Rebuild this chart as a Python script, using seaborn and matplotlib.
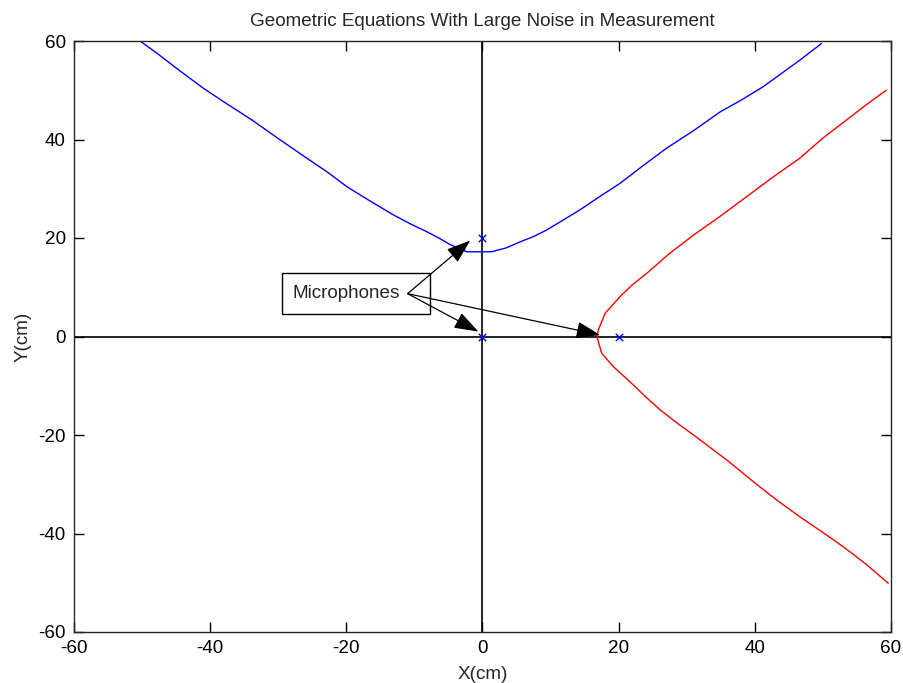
import matplotlib
matplotlib.use("Agg")
import matplotlib.pyplot as plt
import seaborn as sns
import pandas as pd
from matplotlib.patches import Rectangle

# ---- data ----
blue_x = [-50.3, -47.8, -44.5, -41.0, -37.5, -33.9, -29.8, -25.8, -22.8, -19.9, -16.5,
          -13.1, -10.5, -8.2, -6.3, -4.8, -2.3, 1.35, 3.5, 5.5, 7.5, 9.4, 11.8, 14.3,
          17.2, 20.2, 23.5, 27.0, 31.0, 34.9, 38.0, 41.2, 44.0, 46.6, 49.8]
blue_y = [60.0, 57.5, 54.0, 50.4, 47.2, 44.0, 40.0, 36.2, 33.4, 30.4, 27.5,
          24.7, 22.8, 21.3, 19.9, 18.7, 17.2, 17.2, 18.0, 19.2, 20.3, 21.6, 23.6, 25.7,
          28.4, 31.1, 34.6, 38.2, 41.8, 45.6, 48.0, 50.7, 53.5, 56.1, 59.5]

red_x = [59.3, 56.5, 53.5, 50.0, 46.6, 42.8, 38.8, 35.0, 31.0, 27.5, 24.1, 22.0, 20.2,
         18.0, 17.0, 16.8, 17.5, 19.2, 21.9, 24.0, 26.1, 28.5, 31.0, 33.5, 35.9,
         38.3, 40.7, 43.6, 46.6, 49.8, 53.0, 56.3, 59.6]
red_y = [50.0, 47.2, 44.0, 40.3, 36.2, 32.5, 28.4, 24.5, 20.6, 16.9, 12.8, 10.5, 8.1,
         4.7, 1.3, 0.0, -3.4, -6.1, -9.5, -12.3, -14.9, -17.5, -20.0, -22.6, -25.1,
         -27.8, -30.5, -33.6, -36.6, -39.6, -42.7, -46.2, -50.1]

mic_x = [0, 0, 20]
mic_y = [20, 0, 0]

ticks = [-60, -40, -20, 0, 20, 40, 60]
title = "Geometric Equations With Large Noise in Measurement"
label_text = "Microphones"
arrow_start = (-11.0, 8.7)
arrow_tips = [(-1.8, 19.5), (-0.6, 1.0), (17.3, 0.3)]

FS = 13.6

sns.set_style("white")
plt.rcParams['font.family'] = ['Liberation Sans', 'DejaVu Sans']
plt.rcParams['font.size'] = FS

fig = plt.figure(figsize=(9.04, 6.83), dpi=100)
ax = fig.add_axes([74/904, 1-632/683, 817/904, 591/683])

blue_df = pd.DataFrame({"x": blue_x, "y": blue_y})
red_df = pd.DataFrame({"x": red_x, "y": red_y})
mic_df = pd.DataFrame({"x": mic_x, "y": mic_y})

ax.axhline(0, color="black", lw=1.2, zorder=1)
ax.axvline(0, color="black", lw=1.2, zorder=1)

sns.lineplot(data=blue_df, x="x", y="y", sort=False, estimator=None, color="#0000ff", lw=1.0, ax=ax, zorder=2)
sns.lineplot(data=red_df, x="x", y="y", sort=False, estimator=None, color="#ff0000", lw=1.0, ax=ax, zorder=2)
sns.scatterplot(data=mic_df, x="x", y="y", marker="x", s=28, color="#0000ff", linewidth=1.0, ax=ax, zorder=3)

ax.set_xlim(-60, 60)
ax.set_ylim(-60, 60)
ax.set_xticks(ticks)
ax.set_yticks(ticks)
ax.set_xticklabels([str(t) for t in ticks])
ax.set_yticklabels([str(t) for t in ticks])
ax.tick_params(direction="in", length=7, width=1.0, top=True, right=True, bottom=True, left=True,
               labelsize=FS, colors="black")
ax.tick_params(axis="x", pad=6)
ax.tick_params(axis="y", pad=6)
for s in ax.spines.values():
    s.set_visible(True)
    s.set_color("#262626")
    s.set_linewidth(1.0)

ax.set_title(title, fontsize=FS, pad=11)
ax.set_xlabel("X(cm)", fontsize=FS, labelpad=6)
ax.set_ylabel("Y(cm)", fontsize=FS, labelpad=5)

# annotation box
ax.add_patch(Rectangle((-29.4, 4.57), 21.7, 8.33, fill=True, facecolor="white",
                       edgecolor="black", lw=1.0, zorder=4))
ax.text(-27.9, 8.8, label_text, ha="left", va="center", fontsize=FS, zorder=5)
for tip in arrow_tips:
    ax.annotate("", xy=tip, xytext=arrow_start, zorder=6,
                arrowprops=dict(arrowstyle="-|>,head_length=1.0,head_width=0.35",
                                color="black", lw=0.9, shrinkA=0, shrinkB=0,
                                mutation_scale=15))

fig.savefig("out.png", dpi=100, facecolor="white")
